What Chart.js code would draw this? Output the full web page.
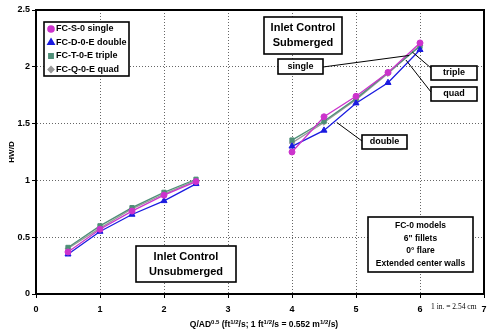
<!DOCTYPE html>
<html>
<head>
<meta charset="utf-8">
<script src="https://cdn.jsdelivr.net/npm/chart.js@4"></script>
<style>
  body { margin: 0; background: #fff; }
  #wrap { width: 495px; height: 336px; }
</style>
</head>
<body>
<div id="wrap"><canvas id="chart" width="495" height="336"></canvas></div>
<script>
// Q/AD^0.5 values for the two regimes
const xUnsub = [0.5, 1, 1.5, 2, 2.5];
const xSub = [4, 4.5, 5, 5.5, 6];

// HW/D
const singleUnsub = [0.37, 0.57, 0.73, 0.87, 0.99];
const singleSub = [1.25, 1.56, 1.74, 1.95, 2.21];
const doubleUnsub = [0.35, 0.55, 0.70, 0.82, 0.97];
const doubleSub = [1.30, 1.44, 1.68, 1.86, 2.15];
const tripleUnsub = [0.41, 0.60, 0.76, 0.895, 1.01];
const tripleSub = [1.355, 1.52, 1.72, 1.95, 2.18];
const quadUnsub = [0.40, 0.58, 0.75, 0.88, 1.00];
const quadSub = [1.33, 1.51, 1.71, 1.94, 2.19];

const seriesLabels = ['FC-S-0 single', 'FC-D-0-E double', 'FC-T-0-E triple', 'FC-Q-0-E quad'];
const xTicks = [0, 1, 2, 3, 4, 5, 6, 7];
const yTicks = [0, 0.5, 1, 1.5, 2, 2.5];

function pts(a, b) {
    const out = xUnsub.map((x, i) => ({ x: x, y: a[i] }));
    out.push({ x: 3.2, y: null }); // break between the two groups
    return out.concat(xSub.map((x, i) => ({ x: x, y: b[i] })));
}

const colors = ['#cc33cc', '#1a1ae0', '#4f8f78', '#999999'];
const markers = ['circle', 'triangle', 'rect', 'rectRot'];
const radii = [3, 3.5, 3, 2.8];
const allData = [
    pts(singleUnsub, singleSub),
    pts(doubleUnsub, doubleSub),
    pts(tripleUnsub, tripleSub),
    pts(quadUnsub, quadSub)
];

const FONT = '"Liberation Sans", Arial, sans-serif';

// boxes, text and leader lines drawn on top of the plot
const notes = {
    id: 'notes',
    afterDraw(chart) {
        const c = chart.ctx;
        const xs = chart.scales.x, ys = chart.scales.y;
        const area = chart.chartArea;

        // plot frame
        c.save();
        c.strokeStyle = '#000';
        c.lineWidth = 2;
        c.strokeRect(area.left, area.top, area.right - area.left, area.bottom - area.top);

        function box(x, y, w, h, lines, size, lh) {
            c.fillStyle = '#fff';
            c.fillRect(x, y, w, h);
            c.strokeStyle = '#000';
            c.lineWidth = 1.6;
            c.strokeRect(x, y, w, h);
            c.fillStyle = '#000';
            c.font = 'bold ' + size + 'px ' + FONT;
            c.textAlign = 'center';
            c.textBaseline = 'middle';
            const top = y + h / 2 - (lines.length - 1) * lh / 2;
            lines.forEach((t, i) => c.fillText(t, x + w / 2, top + i * lh));
        }
        function lead(x1, y1, dx, dy) {
            c.strokeStyle = '#000';
            c.lineWidth = 1;
            c.beginPath();
            c.moveTo(x1, y1);
            c.lineTo(xs.getPixelForValue(dx), ys.getPixelForValue(dy));
            c.stroke();
        }

        // leader lines first
        lead(323, 67, 5.83, 2.10);
        lead(431, 68, 5.88, 2.13);
        lead(431, 92, 5.78, 2.06);
        lead(362, 141, 4.7, 1.51);

        box(264, 17, 78, 37, ['Inlet Control', 'Submerged'], 11, 15);
        box(278, 59, 45, 15, ['single'], 9, 12);
        box(431, 66, 46, 14, ['triple'], 9, 12);
        box(431, 87, 46, 14, ['quad'], 9, 12);
        box(362, 135, 45, 14, ['double'], 9, 12);
        box(136, 246, 100, 36, ['Inlet Control', 'Unsubmerged'], 11, 15);
        box(368, 217, 105, 55, ['FC-0 models', '6" fillets', '0\u00b0 flare', 'Extended center walls'], 8.5, 12.5);

        // legend
        c.fillStyle = '#fff';
        c.fillRect(44, 22, 85, 54);
        c.strokeStyle = '#000';
        c.lineWidth = 1.6;
        c.strokeRect(44, 22, 85, 54);
        seriesLabels.forEach((lab, i) => {
            const yy = 29 + i * 13.5;
            c.fillStyle = colors[i];
            c.strokeStyle = colors[i];
            Chart.helpers.drawPoint(c, { pointStyle: markers[i], radius: radii[i], borderWidth: 1 }, 51, yy);
            c.fill();
            c.fillStyle = '#000';
            c.font = 'bold 9px ' + FONT;
            c.textAlign = 'left';
            c.textBaseline = 'middle';
            c.fillText(lab, 56, yy);
        });

        // axis titles
        c.fillStyle = '#000';
        c.save();
        c.translate(12, (area.top + area.bottom) / 2);
        c.rotate(-Math.PI / 2);
        c.font = 'bold 8px ' + FONT;
        c.textAlign = 'center';
        c.textBaseline = 'middle';
        c.fillText('HW/D', 0, 0);
        c.restore();

        // x title with superscripts
        const parts = [
            ['Q/AD', 0], ['0.5', 1], [' (ft', 0], ['1/2', 1], ['/s; 1 ft', 0], ['1/2', 1],
            ['/s = 0.552 m', 0], ['1/2', 1], ['/s)', 0]
        ];
        const fn = s => s ? 'bold 6px ' + FONT : 'bold 8.5px ' + FONT;
        let w = 0;
        parts.forEach(p => { c.font = fn(p[1]); w += c.measureText(p[0]).width; });
        let x = 264 - w / 2;
        c.textAlign = 'left';
        c.textBaseline = 'alphabetic';
        parts.forEach(p => {
            c.font = fn(p[1]);
            c.fillText(p[0], x, p[1] ? 324 : 327);
            x += c.measureText(p[0]).width;
        });

        c.font = '7.5px "Liberation Serif", "Times New Roman", serif';
        c.textAlign = 'left';
        c.fillText('1 in. = 2.54 cm', 431, 309);
        c.restore();
    }
};

new Chart(document.getElementById('chart'), {
    type: 'line',
    data: {
        datasets: allData.map((d, i) => ({
            label: seriesLabels[i],
            data: d,
            borderColor: colors[i],
            backgroundColor: colors[i],
            pointStyle: markers[i],
            pointRadius: radii[i],
            pointBorderWidth: 1,
            borderWidth: 1.3,
            spanGaps: false,
            tension: 0
        }))
    },
    options: {
        responsive: false,
        animation: false,
        layout: { padding: { top: 10, right: 11, left: 0, bottom: 0 } },
        plugins: { legend: { display: false }, tooltip: { enabled: false } },
        scales: {
            x: {
                type: 'linear',
                min: 0, max: 7,
                afterBuildTicks: s => { s.ticks = xTicks.map(v => ({ value: v })); },
                afterFit: s => { s.height = 42; },
                grid: { color: '#666', lineWidth: 1, tickLength: 4, tickColor: '#000' },
                border: { display: true, color: '#000', width: 2, dash: [1, 2] },
                ticks: {
                    color: '#000', font: { family: FONT, size: 9, weight: 'bold' }, padding: 6,
                    callback: v => String(v)
                }
            },
            y: {
                min: 0, max: 2.5,
                afterBuildTicks: s => { s.ticks = yTicks.map(v => ({ value: v })); },
                afterFit: s => { s.width = 36; },
                grid: { color: '#666', lineWidth: 1, tickLength: 4, tickColor: '#000' },
                border: { display: true, color: '#000', width: 2, dash: [1, 2] },
                ticks: {
                    color: '#000', font: { family: FONT, size: 9, weight: 'bold' }, padding: 2,
                    callback: v => String(v)
                }
            }
        }
    },
    plugins: [notes]
});
</script>
</body>
</html>
